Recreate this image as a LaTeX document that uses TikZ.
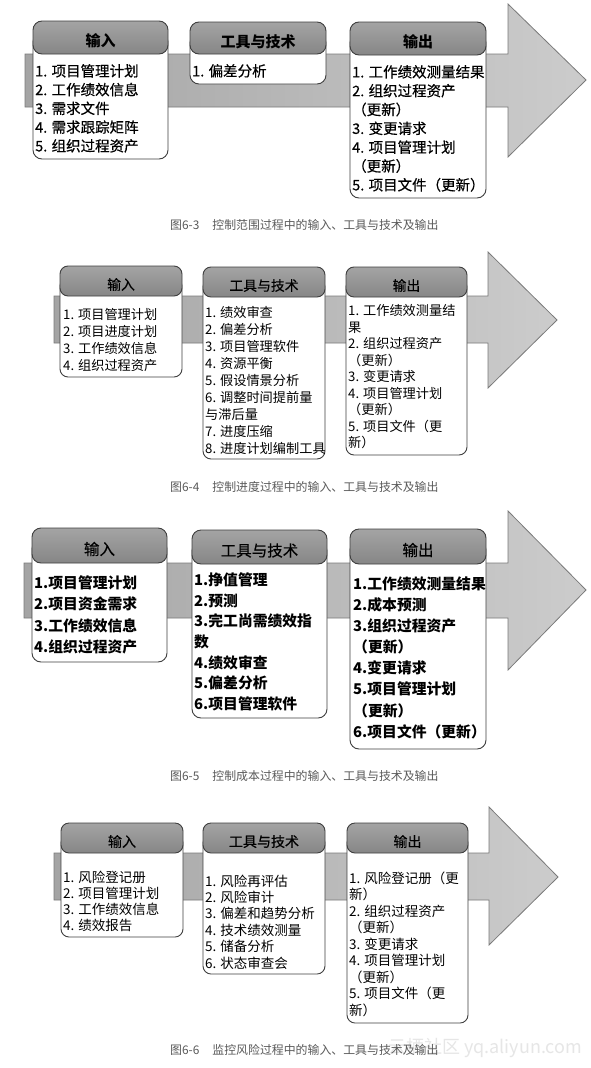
\documentclass[tikz,border=0pt]{standalone}
\usepackage{fontspec}
\setmainfont{Noto Sans CJK SC}
\newfontfamily\medfont[FakeBold=0.45]{Noto Sans CJK SC}
\definecolor{hdtop}{HTML}{A4A4A4}
\definecolor{hdbot}{HTML}{868686}
\definecolor{boxline}{HTML}{3F3F3F}
\definecolor{arrline}{HTML}{7A7A7A}
\definecolor{arrL}{HTML}{A4A4A4}
\definecolor{arrR}{HTML}{CCCCCC}
\definecolor{captxt}{HTML}{5A5A5A}
\definecolor{wmark}{HTML}{E6E6E6}
\tikzset{
  arrowshape/.style={left color=arrL, right color=arrR, draw=arrline, line width=0.8pt},
  bodybox/.style={draw=boxline, fill=white, line width=0.9pt},
  headbox/.style={top color=hdtop, bottom color=hdbot, draw=boxline, line width=0.9pt},
  itemtext/.style={anchor=base west, inner sep=0pt, text=black},
  captext/.style={anchor=base west, inner sep=0pt, text=captxt, font=\fontsize{11.9}{11.9}\selectfont},
}
% #1 left x, #2 shaft top, #3 shaft bottom, #4 head x, #5 head top, #6 head bottom, #7 tip x, #8 tip y
\newcommand\procarrow[8]{%
  \shadedraw[arrowshape] (#1,#2) -- (#4,#2) -- (#4,#5) -- (#7,#8) -- (#4,#6) -- (#4,#3) -- (#1,#3) -- cycle;}
% #1 name, #2 x1, #3 y1, #4 header bottom, #5 x2, #6 y2, #7 radius, #8 font, #9 title
\newcommand\pbox[9]{%
  \draw[bodybox, rounded corners=#7] (#2,{#3+12}) rectangle (#5,#6);
  \shadedraw[headbox, rounded corners=#7] (#2,#3) rectangle (#5,#4);
  \node[inner sep=0pt, font=#8] (#1) at ({(#2+#5)/2},{(#3+#4)/2+3.5}) {#9};}
% #1 prefix, #2 x, #3 first centre y, #4 line step, #5 size, #6 extra font, #7 lines
\newcommand\plines[7]{%
  \foreach \t [count=\i] in {#7}{%
    \node[itemtext, font=#6\fontsize{#5}{#5}\selectfont] (#1-\i) at (#2,{#3+(\i-1)*#4+0.37*#5}) {\t};}}
\begin{document}
\begin{tikzpicture}[x=1pt, y=-1pt]
\useasboundingbox (0,0) rectangle (590,1068);
\fill[white] (0,0) rectangle (590,1068);

% ---------- Figure 6-3 ----------
\procarrow{25}{54}{107}{508}{4}{157}{586}{80}
\pbox{aIn}{33}{21}{54}{168}{159}{9pt}{\fontsize{15}{15}\selectfont\bfseries}{输入}
\pbox{aTool}{190}{22}{54}{326}{84}{9pt}{\fontsize{15}{15}\selectfont\bfseries}{工具与技术}
\pbox{aOut}{350}{22}{55}{486}{198}{9pt}{\fontsize{15}{15}\selectfont\bfseries}{输出}
\plines{aI}{35}{71}{18.75}{14.5}{\medfont}{1. 项目管理计划, 2. 工作绩效信息, 3. 需求文件, 4. 需求跟踪矩阵, 5. 组织过程资产}
\plines{aT}{192}{71}{18.75}{14.5}{\medfont}{1. 偏差分析}
\plines{aO}{352}{72}{18.83}{14.5}{\medfont}{1. 工作绩效测量结果, 2. 组织过程资产, （更新）, 3. 变更请求, 4. 项目管理计划, （更新）, 5. 项目文件（更新）}
\node[captext] (capA) at (170,{225+4.4}) {图6-3\hspace{13pt}控制范围过程中的输入、工具与技术及输出};

% ---------- Figure 6-4 ----------
\procarrow{54}{296}{343}{488}{252}{388}{557}{320}
\pbox{bIn}{60}{266}{296}{182}{377}{8pt}{\medfont\fontsize{13.8}{13.8}\selectfont}{输入}
\pbox{bTool}{203}{267}{297}{325}{459}{8pt}{\medfont\fontsize{13.8}{13.8}\selectfont}{工具与技术}
\pbox{bOut}{346}{267}{297}{467}{455}{8pt}{\medfont\fontsize{13.8}{13.8}\selectfont}{输出}
\plines{bI}{63}{315}{17}{13.2}{\relax}{1. 项目管理计划, 2. 项目进度计划, 3. 工作绩效信息, 4. 组织过程资产}
\plines{bT}{205}{313}{17}{13.2}{\relax}{1. 绩效审查, 2. 偏差分析, 3. 项目管理软件, 4. 资源平衡, 5. 假设情景分析, 6. 调整时间提前量, 与滞后量, 7. 进度压缩, 8. 进度计划编制工具}
\plines{bO}{348}{311}{16.5}{13.2}{\relax}{1. 工作绩效测量结, 果, 2. 组织过程资产, （更新）, 3. 变更请求, 4. 项目管理计划, （更新）, 5. 项目文件（更, 新）}
\node[captext] (capB) at (170,{487+4.4}) {图6-4\hspace{13pt}控制进度过程中的输入、工具与技术及输出};

% ---------- Figure 6-5 ----------
\procarrow{24}{563}{618}{508}{511}{670}{586}{590}
\pbox{cIn}{32}{528}{563}{167}{662}{9pt}{\medfont\fontsize{15.5}{15.5}\selectfont}{输入}
\pbox{cTool}{192}{530}{564}{327}{718}{9pt}{\medfont\fontsize{15.5}{15.5}\selectfont}{工具与技术}
\pbox{cOut}{350}{529}{564}{486}{749}{9pt}{\medfont\fontsize{15.5}{15.5}\selectfont}{输出}
\plines{cI}{34}{583}{21.3}{14.8}{\bfseries}{1.项目管理计划, 2.项目资金需求, 3.工作绩效信息, 4.组织过程资产}
\plines{cT}{194}{580}{20.7}{14.8}{\bfseries}{1.挣值管理, 2.预测, 3.完工尚需绩效指, 数, 4.绩效审查, 5.偏差分析, 6.项目管理软件}
\plines{cO}{353}{584}{21.1}{14.8}{\bfseries}{1.工作绩效测量结果, 2.成本预测, 3.组织过程资产, （更新）, 4.变更请求, 5.项目管理计划, （更新）, 6.项目文件（更新）}
\node[captext] (capC) at (170,{776+4.4}) {图6-5\hspace{13pt}控制成本过程中的输入、工具与技术及输出};

% ---------- Figure 6-6 ----------
\procarrow{54}{853}{900}{489}{807}{945}{558}{877}
\pbox{dIn}{61}{823}{853}{183}{937}{8pt}{\medfont\fontsize{14}{14}\selectfont}{输入}
\pbox{dTool}{203}{823}{853}{325}{974}{8pt}{\medfont\fontsize{14}{14}\selectfont}{工具与技术}
\pbox{dOut}{347}{823}{853}{468}{1023}{8pt}{\medfont\fontsize{14}{14}\selectfont}{输出}
\plines{dI}{63}{877}{16.3}{13.5}{\relax}{1. 风险登记册, 2. 项目管理计划, 3. 工作绩效信息, 4. 绩效报告}
\plines{dT}{205}{881}{16.4}{13.5}{\relax}{1. 风险再评估, 2. 风险审计, 3. 偏差和趋势分析, 4. 技术绩效测量, 5. 储备分析, 6. 状态审查会}
\plines{dO}{349}{878}{16.5}{13.5}{\relax}{1. 风险登记册（更, 新）, 2. 组织过程资产, （更新）, 3. 变更请求, 4. 项目管理计划, （更新）, 5. 项目文件（更, 新）}
\node[anchor=base west, inner sep=0pt, text=wmark, font=\fontsize{18}{18}\selectfont] (wm) at (388,{1047+6.7}) {云栖社区 yq.aliyun.com};
\node[captext] (capD) at (170,{1050+4.4}) {图6-6\hspace{13pt}监控风险过程中的输入、工具与技术及输出};
\end{tikzpicture}
\end{document}
